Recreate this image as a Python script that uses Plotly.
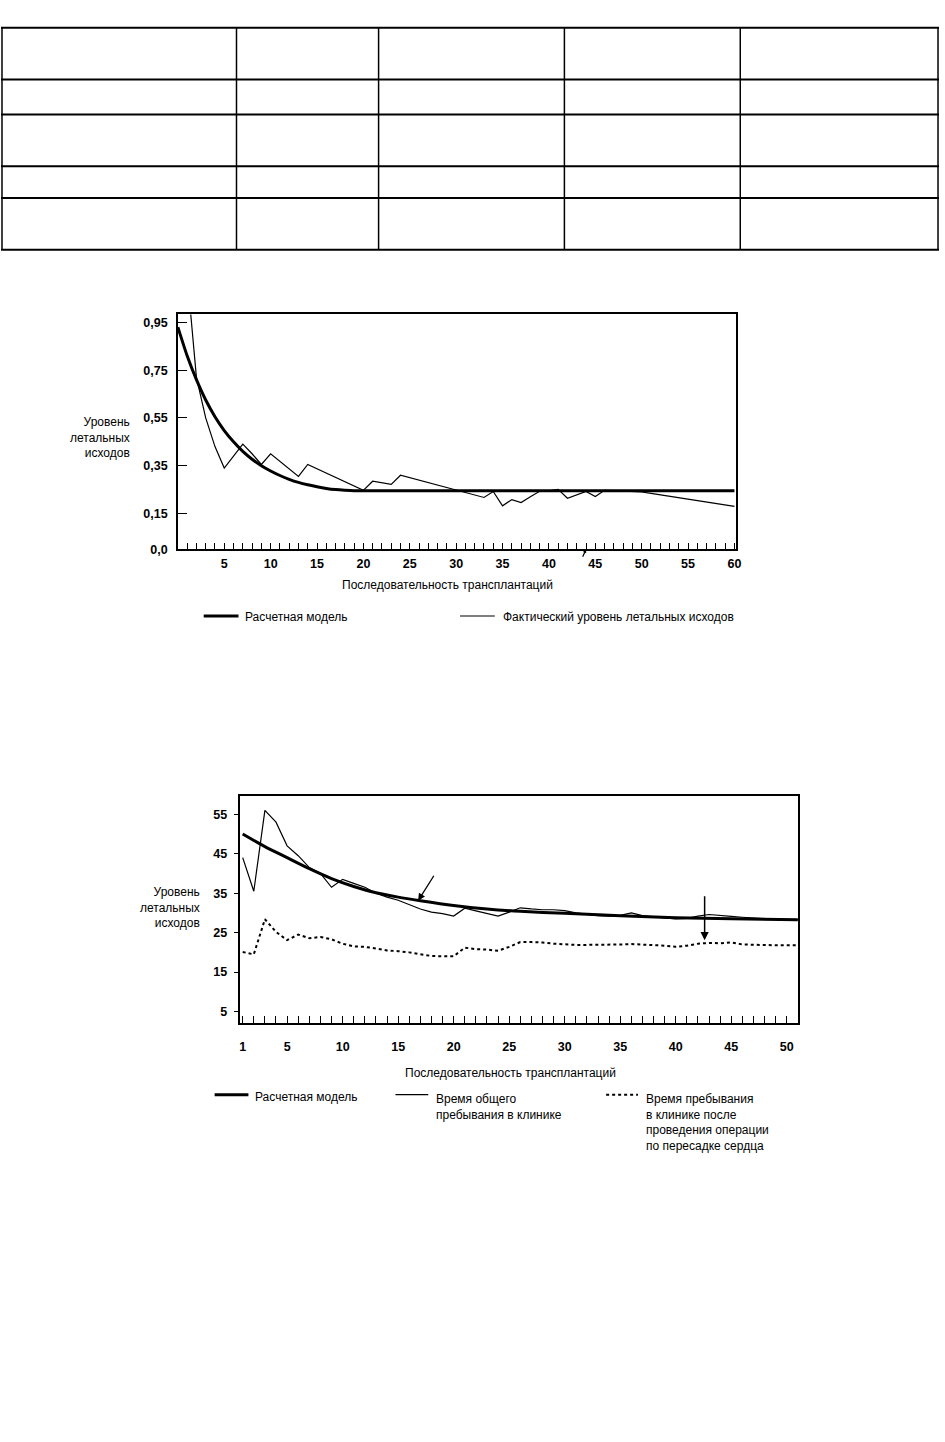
import plotly.graph_objects as go

# ---------------- data ----------------
# Chart 1: mortality level vs transplant sequence
x1_actual = list(range(1, 61))
y1_actual = [1.15, 0.72, 0.55, 0.43, 0.34, 0.39, 0.44, 0.40, 0.355, 0.40,
             0.368, 0.336, 0.305, 0.355, 0.337, 0.319, 0.301, 0.283, 0.265, 0.247,
             0.285, 0.28, 0.272, 0.31, 0.30, 0.29, 0.28, 0.268, 0.258, 0.247,
             0.24, 0.23, 0.217, 0.242, 0.182, 0.208, 0.196, 0.22, 0.243, 0.245,
             0.251, 0.214, 0.228, 0.242, 0.221, 0.247, 0.246, 0.245, 0.244, 0.24,
             0.234, 0.228, 0.222, 0.216, 0.21, 0.204, 0.198, 0.192, 0.186, 0.18]
x1_model = list(range(0, 21)) + [60]
y1_model = [0.93, 0.81, 0.71, 0.625, 0.555, 0.497, 0.45, 0.41, 0.377, 0.35,
            0.328, 0.309, 0.293, 0.28, 0.27, 0.262, 0.255, 0.25, 0.247, 0.245,
            0.245, 0.245]
x1_tick_labels = [5, 10, 15, 20, 25, 30, 35, 40, 45, 50, 55, 60]
y1_tick_vals = [0.0, 0.15, 0.35, 0.55, 0.75, 0.95]
y1_tick_text = ["0,0", "0,15", "0,35", "0,55", "0,75", "0,95"]

# Chart 2: length of stay vs transplant sequence
x2 = list(range(1, 52))
y2_total = [44, 35.5, 56, 53, 47, 44.5, 41.5, 40, 36.5, 38.5,
            37.5, 36.5, 35.0, 34.0, 33.2, 32.0, 31.0, 30.2, 29.8, 29.2,
            31.2, 30.5, 29.8, 29.2, 30.2, 31.3, 31.0, 30.8, 30.8, 30.6,
            30.0, 29.6, 29.3, 29.2, 29.4, 30.0, 29.3, 29.0, 28.7, 28.5,
            28.6, 29.2, 29.6, 29.3, 29.1, 28.9, 28.7, 28.5, 28.4, 28.3, 28.3]
y2_post = [20.1, 19.5, 28.4, 25.2, 23.1, 24.5, 23.6, 23.9, 23.3, 22.2,
           21.5, 21.4, 21.0, 20.5, 20.3, 20.0, 19.5, 19.1, 19.0, 19.0,
           21.2, 20.8, 20.7, 20.4, 21.4, 22.6, 22.6, 22.5, 22.2, 22.0,
           21.9, 21.9, 21.9, 22.0, 22.0, 22.1, 22.0, 21.9, 21.7, 21.4,
           21.7, 22.2, 22.4, 22.3, 22.5, 22.0, 21.9, 21.8, 21.8, 21.8, 21.8]
x2_model = [1, 3, 5, 7, 9, 11, 13, 15, 17, 20, 23, 26, 30, 35, 40, 45, 51]
y2_model = [50, 46.8, 44.0, 41.2, 38.7, 36.7, 35.1, 34.0, 33.1, 31.9,
            31.0, 30.4, 29.9, 29.3, 28.8, 28.5, 28.3]
x2_tick_labels = [1, 5, 10, 15, 20, 25, 30, 35, 40, 45, 50]
y2_tick_vals = [5, 15, 25, 35, 45, 55]

# ---------------- layout helpers ----------------
W, H = 945, 1442
FONT = "Liberation Sans, Arial, Helvetica, sans-serif"


def px(x):
    return x / W


def py(y):
    return 1 - y / H


fig = go.Figure()

# chart 1 traces
fig.add_trace(go.Scatter(x=x1_actual, y=y1_actual, mode="lines",
                         line=dict(color="black", width=1.2),
                         xaxis="x", yaxis="y", showlegend=False))
fig.add_trace(go.Scatter(x=x1_model, y=y1_model, mode="lines",
                         line=dict(color="black", width=3, shape="spline", smoothing=0.6),
                         xaxis="x", yaxis="y", showlegend=False))

# chart 2 traces
fig.add_trace(go.Scatter(x=x2, y=y2_post, mode="lines",
                         line=dict(color="black", width=2, dash="dot"),
                         xaxis="x2", yaxis="y2", showlegend=False))
fig.add_trace(go.Scatter(x=x2, y=y2_total, mode="lines",
                         line=dict(color="black", width=1.2),
                         xaxis="x2", yaxis="y2", showlegend=False))
fig.add_trace(go.Scatter(x=x2_model, y=y2_model, mode="lines",
                         line=dict(color="black", width=3, shape="spline", smoothing=0.6),
                         xaxis="x2", yaxis="y2", showlegend=False))

tickfont = dict(family=FONT, size=12.5, color="black", weight="bold")
textfont = dict(family=FONT, size=12, color="black")

x1_ticktext = [str(v) if v in x1_tick_labels else "" for v in range(1, 61)]
x2_ticktext = [str(v) if v in x2_tick_labels else "" for v in range(1, 52)]

fig.update_layout(
    width=W, height=H,
    margin=dict(l=0, r=0, t=0, b=0),
    paper_bgcolor="white", plot_bgcolor="white",
    showlegend=False,
    xaxis=dict(domain=[px(178), px(740)], range=[0, 60.2], anchor="y",
               tickmode="array", tickvals=list(range(1, 61)), ticktext=x1_ticktext,
               ticks="inside", ticklen=7, tickwidth=1, tickcolor="black",
               showline=True, linecolor="black", linewidth=1.5, mirror=True,
               showgrid=False, zeroline=False, tickfont=tickfont,
               ticklabelstandoff=2),
    yaxis=dict(domain=[py(552), py(316)], range=[0, 0.983], anchor="x",
               tickmode="array", tickvals=y1_tick_vals, ticktext=y1_tick_text,
               ticks="inside", ticklen=9, tickwidth=1, tickcolor="black",
               showline=True, linecolor="black", linewidth=1.5, mirror=True,
               showgrid=False, zeroline=False, tickfont=tickfont,
               ticklabelstandoff=6),
    xaxis2=dict(domain=[px(241), px(802)], range=[0.8, 51.0], anchor="y2",
                tickmode="array", tickvals=list(range(1, 52)), ticktext=x2_ticktext,
                ticks="inside", ticklen=7, tickwidth=1, tickcolor="black",
                showline=True, linecolor="black", linewidth=1.5, mirror=True,
                showgrid=False, zeroline=False, tickfont=tickfont,
                ticklabelstandoff=11),
    yaxis2=dict(domain=[py(1028), py(800)], range=[2.1, 59.6], anchor="x2",
                tickmode="array", tickvals=y2_tick_vals,
                ticks="outside", ticklen=5, tickwidth=1, tickcolor="black",
                showline=True, linecolor="black", linewidth=1.5, mirror=True,
                showgrid=False, zeroline=False, tickfont=tickfont,
                ticklabelstandoff=4),
)

shapes = []
# empty table grid at top of page
table_rows = [28, 80, 115, 167, 199, 251]
table_cols = [1, 237, 380, 567, 744, 943]
for r in table_rows:
    shapes.append(dict(type="line", xref="paper", yref="paper",
                       x0=px(0), x1=px(944), y0=py(r), y1=py(r),
                       line=dict(color="black", width=2)))
for c in table_cols:
    shapes.append(dict(type="line", xref="paper", yref="paper",
                       x0=px(c), x1=px(c), y0=py(table_rows[0]), y1=py(table_rows[-1]),
                       line=dict(color="black", width=1.5)))

# legend samples
shapes += [
    dict(type="line", xref="paper", yref="paper", x0=px(204), x1=px(239),
         y0=py(619), y1=py(619), line=dict(color="black", width=3)),
    dict(type="line", xref="paper", yref="paper", x0=px(462), x1=px(497),
         y0=py(619), y1=py(619), line=dict(color="black", width=1.2)),
    dict(type="line", xref="paper", yref="paper", x0=px(215), x1=px(249),
         y0=py(1100), y1=py(1100), line=dict(color="black", width=3)),
    dict(type="line", xref="paper", yref="paper", x0=px(397), x1=px(430),
         y0=py(1100), y1=py(1100), line=dict(color="black", width=1.2)),
    dict(type="line", xref="paper", yref="paper", x0=px(609), x1=px(641),
         y0=py(1100), y1=py(1100), line=dict(color="black", width=2, dash="dot")),
]
fig.update_layout(shapes=shapes)

ytitle = "Уровень<br>летальных<br>исходов"
xtitle = "Последовательность трансплантаций"
ann = [
    # chart 1 texts
    dict(text=ytitle, x=px(132), y=py(440), xref="paper", yref="paper",
         xanchor="right", yanchor="middle", align="right", showarrow=False, font=textfont),
    dict(text=xtitle, x=px(449), y=py(588), xref="paper", yref="paper",
         xanchor="center", yanchor="middle", showarrow=False, font=textfont),
    dict(text="Расчетная модель", x=px(244), y=py(620), xref="paper", yref="paper",
         xanchor="left", yanchor="middle", showarrow=False, font=textfont),
    dict(text="Фактический уровень летальных исходов", x=px(503), y=py(620),
         xref="paper", yref="paper", xanchor="left", yanchor="middle",
         showarrow=False, font=textfont),
    # small mark on chart 1 x axis
    dict(x=44, y=0.0, xref="x", yref="y", ax=-4, ay=9, text="", showarrow=True,
         arrowhead=2, arrowsize=0.6, arrowwidth=1.2, arrowcolor="black"),
    # chart 2 texts
    dict(text=ytitle, x=px(202), y=py(912), xref="paper", yref="paper",
         xanchor="right", yanchor="middle", align="right", showarrow=False, font=textfont),
    dict(text=xtitle, x=px(513), y=py(1078), xref="paper", yref="paper",
         xanchor="center", yanchor="middle", showarrow=False, font=textfont),
    dict(text="Расчетная модель", x=px(254), y=py(1102), xref="paper", yref="paper",
         xanchor="left", yanchor="middle", showarrow=False, font=textfont),
    dict(text="Время общего<br>пребывания в клинике", x=px(436), y=py(1095),
         xref="paper", yref="paper", xanchor="left", yanchor="top", align="left",
         showarrow=False, font=textfont),
    dict(text="Время пребывания<br>в клинике после<br>проведения операции<br>по пересадке сердца",
         x=px(647), y=py(1095), xref="paper", yref="paper", xanchor="left", yanchor="top",
         align="left", showarrow=False, font=textfont),
    # arrows on chart 2
    dict(x=16.8, y=33.1, ax=18.3, ay=39.8, xref="x2", yref="y2", axref="x2", ayref="y2",
         text="", showarrow=True, arrowhead=2, arrowsize=1.1, arrowwidth=1.3,
         arrowcolor="black"),
    dict(x=42.6, y=23.1, ax=42.6, ay=34.6, xref="x2", yref="y2", axref="x2", ayref="y2",
         text="", showarrow=True, arrowhead=2, arrowsize=1.1, arrowwidth=1.5,
         arrowcolor="black"),
]
fig.update_layout(annotations=ann)

fig.write_html("out.html", config={"displayModeBar": False},
               post_script="document.body.style.margin='0';document.body.style.overflow='hidden';")
